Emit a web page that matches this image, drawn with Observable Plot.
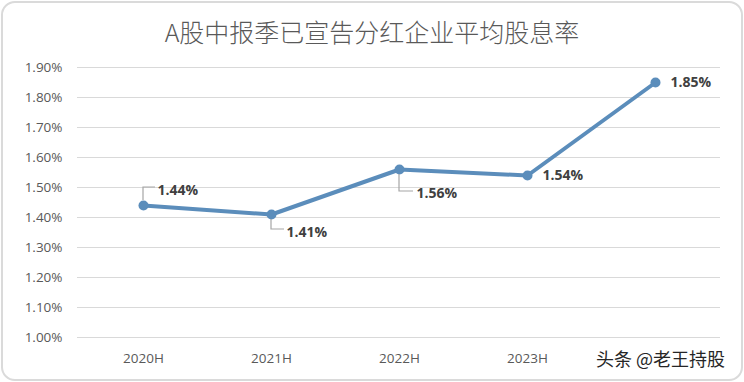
<!DOCTYPE html>
<html>
<head>
<meta charset="utf-8">
<script src="https://cdn.jsdelivr.net/npm/d3@7"></script>
<script src="https://cdn.jsdelivr.net/npm/@observablehq/plot@0.6"></script>
<style>
  html, body { margin: 0; padding: 0; background: #fff; }
  #card { position: relative; width: 744px; height: 382px; background: #fff; overflow: hidden; }
  #frame { position: absolute; left: 1px; top: 1px; width: 742px; height: 380px; box-sizing: border-box;
           border: 2px solid #dadada; border-radius: 14px; pointer-events: none; }
  #title { position: absolute; left: 0; top: 14px; width: 744px; text-align: center;
           font-family: "Noto Sans CJK SC", sans-serif; font-size: 25px; line-height: 34px;
           color: #595959; font-weight: 300; }
  #chart { position: absolute; left: 0; top: 52px; }
  #mark { position: absolute; left: 594px; top: 345px; font-family: "Noto Sans CJK SC", sans-serif;
          font-size: 18px; line-height: 26px; color: #262626; padding: 0 4px 0 2px;
          text-shadow: 0 0 2px #fff; }
</style>
</head>
<body>
<div id="card">
  <div id="title">A股中报季已宣告分红企业平均股息率</div>
  <div id="chart"></div>
  <div id="mark">头条 @老王持股</div>
  <div id="frame"></div>
</div>
<script>
const categories = ["2020H", "2021H", "2022H", "2023H", "2024H"];
const yields = [1.44, 1.41, 1.56, 1.54, 1.85];
const valueLabels = ["1.44%", "1.41%", "1.56%", "1.54%", "1.85%"];
const yTicks = [1.0, 1.1, 1.2, 1.3, 1.4, 1.5, 1.6, 1.7, 1.8, 1.9];

const data = categories.map((c, i) => ({cat: c, v: yields[i], label: valueLabels[i]}));

// label offsets (pixels) and leader elbows, per point
const placement = [
  {dx: 14, dy: -15, leader: [-18, 12]},
  {dx: 15, dy: 18, leader: [15, 13]},
  {dx: 17, dy: 24, leader: [22, 14]},
  {dx: 15, dy: 0, leader: null},
  {dx: 15, dy: 0, leader: null}
];

const lineColor = "#5b8dbb";

function leaders(index, scales) {
  const g = d3.create("svg:g").attr("fill", "none").attr("stroke", "#a6a6a6").attr("stroke-width", 1.2);
  data.forEach((d, i) => {
    const p = placement[i];
    if (!p.leader) return;
    const x = scales.x(d.cat), y = scales.y(d.v);
    const [vy, hx] = p.leader;
    const y0 = y + Math.sign(vy) * 5;
    g.append("path").attr("d", `M${x},${y0}V${y + vy}H${x + hx}`);
  });
  return g.node();
}

const labelMarks = data.map((d, i) => Plot.text([d], {
  x: "cat", y: "v", text: "label",
  dx: placement[i].dx, dy: placement[i].dy,
  textAnchor: "start", fontWeight: "bold", fontSize: 14, fill: "#404040",
  fontFamily: "'Open Sans', sans-serif"
}));

// the last category's tick label is hidden under the watermark in the reference
const hiddenTick = categories[categories.length - 1];

const chart = Plot.plot({
  width: 744,
  height: 330,
  marginTop: 15,
  marginBottom: 45,
  marginLeft: 77,
  marginRight: 24,
  style: {fontFamily: "'Open Sans', sans-serif", fontSize: "13.5px", color: "#595959", background: "transparent"},
  x: {type: "point", domain: categories, padding: 0.5},
  y: {domain: [1.0, 1.9]},
  marks: [
    Plot.gridY(yTicks, {stroke: "#d9d9d9", strokeOpacity: 1, strokeWidth: 1.2}),
    Plot.axisY(yTicks, {tickSize: 0, tickPadding: 15, tickFormat: d => d.toFixed(2) + "%", label: null, fill: "#595959"}),
    Plot.axisX(categories.filter(c => c !== hiddenTick), {tickSize: 0, tickPadding: 16, label: null, fill: "#595959"}),
    Plot.line(data, {x: "cat", y: "v", stroke: lineColor, strokeWidth: 4, strokeLinejoin: "round"}),
    Plot.dot(data, {x: "cat", y: "v", r: 5, fill: lineColor}),
    leaders,
    ...labelMarks
  ]
});
document.getElementById("chart").appendChild(chart);
</script>
</body>
</html>
